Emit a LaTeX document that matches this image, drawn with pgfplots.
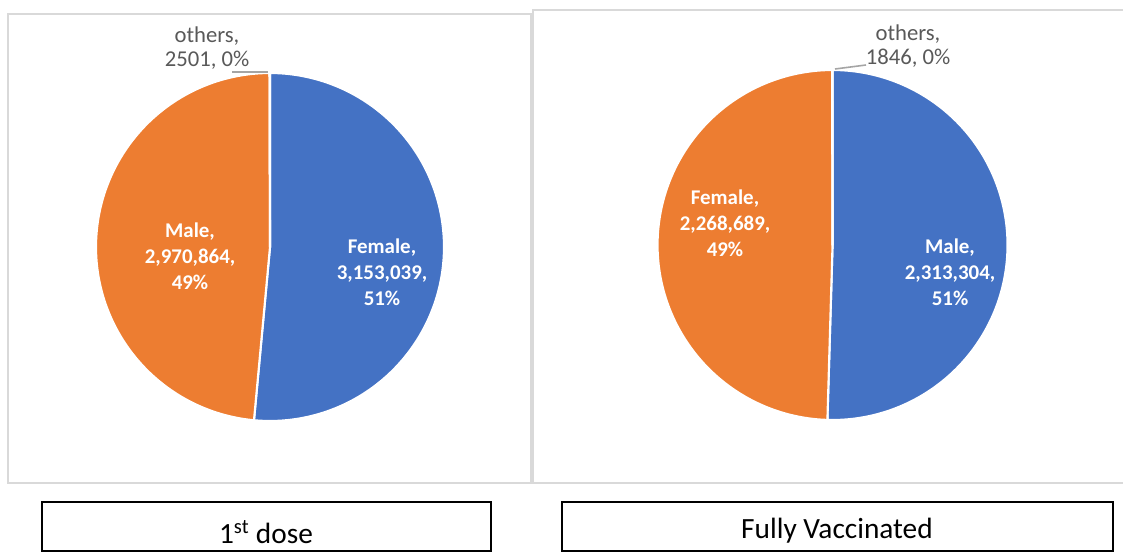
\documentclass[border=0pt]{standalone}
\usepackage{pgfplots}
\pgfplotsset{compat=1.18}
\usepgfplotslibrary{polar}
\usepackage{fontspec}
\setmainfont{Carlito}
\definecolor{pieblue}{HTML}{4472C4}
\definecolor{pieorange}{HTML}{ED7D31}
\definecolor{piegray}{HTML}{A5A5A5}
\definecolor{boxgray}{HTML}{D9D9D9}
\definecolor{labgray}{HTML}{595959}

% data: 1st dose
\def\AFemale{3153039}\def\AMale{2970864}\def\AOthers{2501}
% data: fully vaccinated
\def\BMale{2313304}\def\BFemale{2268689}\def\BOthers{1846}

\edef\Atot{\fpeval{\AFemale+\AMale+\AOthers}}
\edef\Aa{\fpeval{90-360*\AFemale/\Atot}}
\edef\Ab{\fpeval{\Aa-360*\AMale/\Atot}}
\edef\Btot{\fpeval{\BFemale+\BMale+\BOthers}}
\edef\Ba{\fpeval{90-360*\BMale/\Btot}}
\edef\Bb{\fpeval{\Ba-360*\BFemale/\Btot}}

\pgfplotsset{pie/.style={hide axis, scale only axis, ymin=0, ymax=1, xmin=0, xmax=360, clip=false, anchor=center},
  slice/.style={draw=white, line width=1.6pt, line join=round, mark=none}}

\begin{document}
\begin{tikzpicture}
\useasboundingbox (0,0) rectangle (842.25pt,-414pt);
\begin{scope}[x=0.75pt,y=-0.75pt]
  \draw[boxgray, line width=1pt] (8,14) rectangle (531,483);
  \draw[boxgray, line width=1pt] (1130,10) -- (533,10) -- (533,483) -- (1130,483);
  \draw[black, line width=1.1pt] (42,502) rectangle (491,551);
  \draw[black, line width=1.1pt] (562,502) rectangle (1113,551);
  \node[font=\fontsize{22}{26}\selectfont] at (266,532) {1\textsuperscript{st} dose};
  \node[font=\fontsize{22}{26}\selectfont] at (837,531) {Fully Vaccinated};
\end{scope}

\begin{polaraxis}[pie, width=261pt, height=261pt, at={(202.5pt,-185.25pt)}]
\addplot[slice, fill=pieblue, domain=\Aa:90, samples=150] {1} -- (axis cs:0,0) -- cycle;
\addplot[slice, fill=pieorange, domain=\Ab:\Aa, samples=150] {1} -- (axis cs:0,0) -- cycle;
\addplot[slice, fill=piegray, domain=-270:\Ab, samples=2] {1} -- (axis cs:0,0) -- cycle;
\end{polaraxis}

\begin{polaraxis}[pie, width=262.5pt, height=262.5pt, at={(624.4pt,-183.75pt)}]
\addplot[slice, fill=pieblue, domain=\Ba:90, samples=150] {1} -- (axis cs:0,0) -- cycle;
\addplot[slice, fill=pieorange, domain=\Bb:\Ba, samples=150] {1} -- (axis cs:0,0) -- cycle;
\addplot[slice, fill=piegray, domain=-270:\Bb, samples=2] {1} -- (axis cs:0,0) -- cycle;
\end{polaraxis}

\begin{scope}[x=0.75pt,y=-0.75pt]
  \tikzset{lab/.style={text=white, align=center, font=\bfseries\fontsize{15.7}{19.5}\selectfont},
           oth/.style={text=labgray, align=center, font=\fontsize{17}{18}\selectfont}}
  \node[lab] at (382,272) {Female,\\3,153,039,\\51\%};
  \node[lab] at (190,256) {Male,\\2,970,864,\\49\%};
  \node[oth] at (207,48) {others,\\2501, 0\%};
  \draw[piegray, line width=1.2pt] (232,72) -- (268,72);
  \node[lab] at (725,223) {Female,\\2,268,689,\\49\%};
  \node[lab] at (950,272) {Male,\\2,313,304,\\51\%};
  \node[oth] at (908,46) {others,\\1846, 0\%};
  \draw[piegray, line width=1.2pt] (835,69) -- (866,65);
\end{scope}
\end{tikzpicture}
\end{document}
